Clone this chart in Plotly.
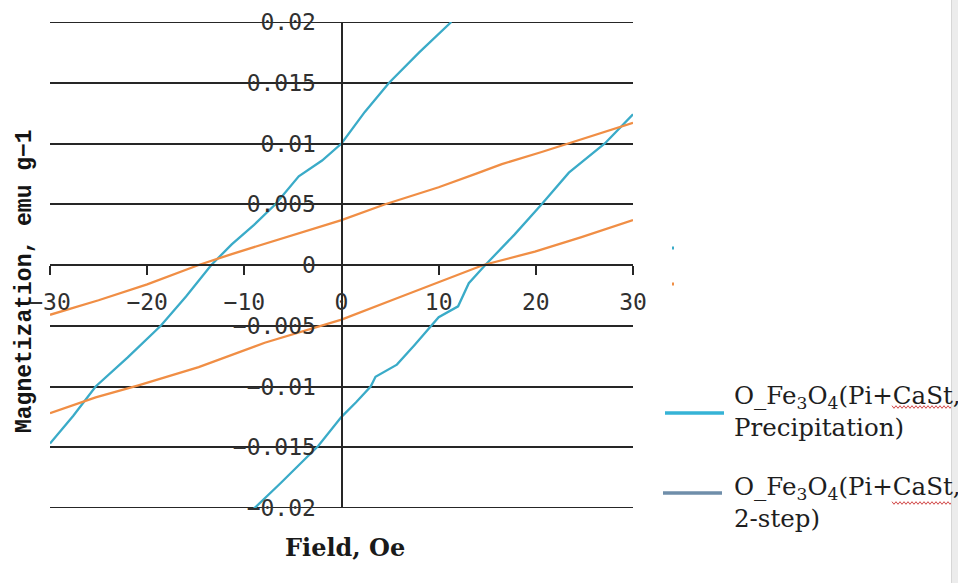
import plotly.graph_objects as go

# Hysteresis loops: field (Oe) vs magnetization (emu/g), read as branches
cyan_up_x = [-30.0, -27.6, -25.3, -22.0, -18.6, -16.0, -13.4, -11.3, -9.0, -6.8, -4.4, -2.0, 0.0, 2.4, 4.9, 8.0, 11.3]
cyan_up_y = [-0.0147, -0.0124, -0.0100, -0.0076, -0.0050, -0.0026, 0.0000, 0.0017, 0.0033, 0.0050, 0.0073, 0.0086, 0.0100, 0.0126, 0.0150, 0.0175, 0.0200]

cyan_dn_x = [-9.2, -6.2, -2.4, 0.0, 1.5, 3.0, 3.5, 5.7, 7.5, 9.3, 10.0, 12.0, 13.1, 14.8, 17.8, 20.6, 23.4, 27.1, 30.0]
cyan_dn_y = [-0.0202, -0.0179, -0.0149, -0.0125, -0.0113, -0.0100, -0.0092, -0.0082, -0.0066, -0.0049, -0.0043, -0.0034, -0.0015, 0.0000, 0.0025, 0.0050, 0.0076, 0.0100, 0.0124]

orange_up_x = [-30.0, -25.0, -20.0, -14.7, -11.3, -8.0, -4.4, 0.0, 4.5, 10.0, 13.8, 16.5, 20.6, 23.4, 27.0, 30.0]
orange_up_y = [-0.0041, -0.0029, -0.0016, 0.0000, 0.0009, 0.0017, 0.0026, 0.0037, 0.0050, 0.0064, 0.0075, 0.0083, 0.0093, 0.0100, 0.0109, 0.0117]

orange_dn_x = [-30.0, -25.3, -20.9, -14.7, -7.9, -1.0, 0.0, 5.5, 10.0, 12.4, 14.6, 19.9, 24.7, 30.0]
orange_dn_y = [-0.0122, -0.0109, -0.0099, -0.0084, -0.0064, -0.0047, -0.0045, -0.0028, -0.0014, -0.0007, 0.0000, 0.0011, 0.0023, 0.0037]

x_ticks = [-30, -20, -10, 0, 10, 20, 30]
x_ticklabels = ["\u221230", "\u221220", "\u221210", "0", "10", "20", "30"]
y_ticks = [0.02, 0.015, 0.01, 0.005, 0, -0.005, -0.01, -0.015, -0.02]
y_ticklabels = ["0.02", "0.015", "0.01", "0.005", "0", "\u22120.005", "\u22120.01", "\u22120.015", "\u22120.02"]

legend_labels = ["O_Fe<sub>3</sub>O<sub>4</sub>(Pi+CaSt,<br>Precipitation)",
                 "O_Fe<sub>3</sub>O<sub>4</sub>(Pi+CaSt,<br>2-step)"]
legend_colors = ["#36B3D6", "#6F8EAA"]

CYAN = "#3AABC8"
ORANGE = "#F08E45"
AX = "#262626"

W, H = 958, 583
L, R, T, B = 50, 325, 22, 75
PW = W - L - R
PH = H - T - B


def px(x):
    return (x - L) / PW


def py(y):
    return (H - B - y) / PH


fig = go.Figure()
for xs, ys, col in [(cyan_up_x, cyan_up_y, CYAN), (cyan_dn_x, cyan_dn_y, CYAN),
                    (orange_up_x, orange_up_y, ORANGE), (orange_dn_x, orange_dn_y, ORANGE)]:
    fig.add_trace(go.Scatter(x=xs, y=ys, mode="lines", line=dict(color=col, width=2.3),
                             showlegend=False, hoverinfo="skip"))

shapes = []
annotations = []

# gridlines on the outermost ticks (plotly leaves these off at the range edges)
for yv in (y_ticks[0], y_ticks[-1]):
    shapes.append(dict(type="line", xref="x", yref="y", x0=x_ticks[0], x1=x_ticks[-1],
                       y0=yv, y1=yv, line=dict(color=AX, width=2), layer="below"))

# hand-drawn legend at the right
legend_rows = [(413, 665, 724), (493, 663, 722)]
text_rows = [411, 502]
for (ly, x0, x1), ty, lab, col in zip(legend_rows, text_rows, legend_labels, legend_colors):
    shapes.append(dict(type="line", xref="paper", yref="paper", x0=px(x0), x1=px(x1),
                       y0=py(ly), y1=py(ly), line=dict(color=col, width=3.5)))
    annotations.append(dict(xref="paper", yref="paper", x=px(732), y=py(ty), text=lab,
                            showarrow=False, xanchor="left", yanchor="middle", align="left",
                            font=dict(family="DejaVu Serif", size=24.5, color="#1e1e1e")))

# spell-check squiggles under "CaSt"
for sy in (407, 503):
    pts = []
    xx = 892
    k = 0
    while xx <= 952:
        yy = sy + (1.3 if k % 2 else -1.3)
        pts.append(f"{px(xx):.5f},{py(yy):.5f}")
        xx += 2
        k += 1
    shapes.append(dict(type="path", xref="paper", yref="paper", path="M" + " L".join(pts),
                       line=dict(color="#D24848", width=1)))

# two stray legend markers
for my, col in ((248, CYAN), (284, ORANGE)):
    shapes.append(dict(type="rect", xref="paper", yref="paper", x0=px(672), x1=px(674),
                       y0=py(my + 1.5), y1=py(my - 1.5), line=dict(width=0), fillcolor=col))

# grey frame strip on the right edge
shapes.append(dict(type="rect", xref="paper", yref="paper", x0=px(951), x1=px(960),
                   y0=py(590), y1=py(-10), line=dict(width=0), fillcolor="#ECECEC", layer="above"))
shapes.append(dict(type="line", xref="paper", yref="paper", x0=px(951.5), x1=px(951.5),
                   y0=py(590), y1=py(-10), line=dict(color="#D6D6D6", width=1), layer="above"))

annotations.append(dict(xref="paper", yref="paper", x=px(345), y=py(547), text="Field, Oe",
                        showarrow=False, xanchor="center", yanchor="middle",
                        font=dict(family="DejaVu Serif", size=24, color="#1a1a1a", weight="bold")))
annotations.append(dict(xref="paper", yref="paper", x=px(25), y=py(281),
                        text="Magnetization, emu g\u22121", textangle=-90,
                        showarrow=False, xanchor="center", yanchor="middle",
                        font=dict(family="Liberation Mono", size=23, color="#141414", weight="bold")))

tickfont = dict(family="DejaVu Sans Mono", size=23, color="#303030")
fig.update_layout(
    template="none",
    width=W, height=H,
    margin=dict(l=L, r=R, t=T, b=B),
    paper_bgcolor="white", plot_bgcolor="white",
    xaxis=dict(range=[-30, 30], tickvals=x_ticks, ticktext=x_ticklabels, ticks="outside",
               ticklen=9, tickwidth=2, tickcolor=AX, showline=True, linecolor=AX, linewidth=2,
               showgrid=False, zeroline=False, anchor="free", position=0.5,
               tickfont=tickfont, ticklabelstandoff=7, automargin=False),
    yaxis=dict(range=[-0.02, 0.02], tickvals=y_ticks, ticktext=y_ticklabels, ticks="",
               showgrid=True, gridcolor=AX, gridwidth=2, showline=True, linecolor=AX,
               linewidth=2, zeroline=False, anchor="free", position=0.5,
               tickfont=tickfont, ticklabelstandoff=20, automargin=False),
    shapes=shapes,
    annotations=annotations,
    showlegend=False,
)

fig.write_html("out.html")
